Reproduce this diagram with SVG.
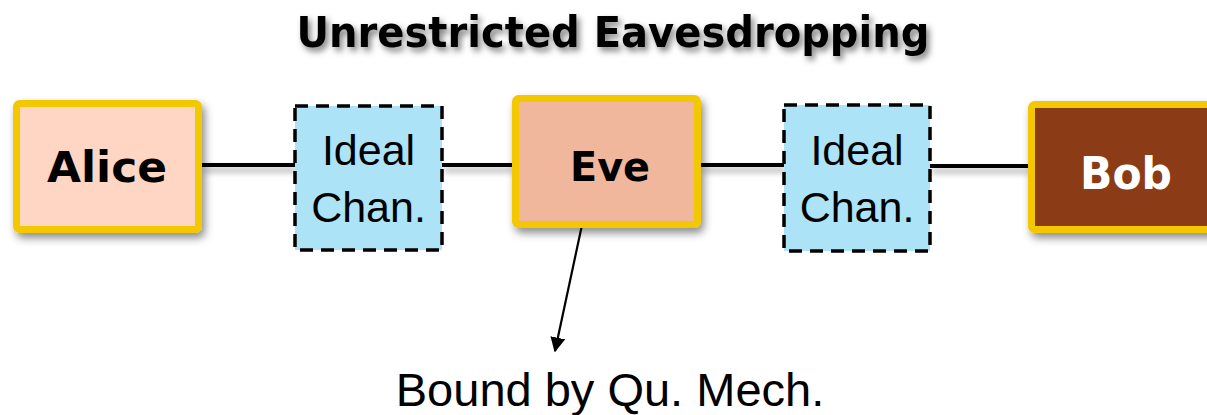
<svg xmlns="http://www.w3.org/2000/svg" width="1207" height="415" viewBox="0 0 1207 415">
<defs>
<filter id="sh" x="-20%" y="-20%" width="140%" height="150%">
<feDropShadow dx="3" dy="5" stdDeviation="4" flood-color="#000" flood-opacity="0.45"/>
</filter>
<filter id="wsh" filterUnits="userSpaceOnUse" x="0" y="140" width="1207" height="60">
<feDropShadow dx="2" dy="5" stdDeviation="3" flood-color="#000" flood-opacity="0.35"/>
</filter>
<filter id="tsh" x="-10%" y="-30%" width="120%" height="170%">
<feDropShadow dx="3" dy="4" stdDeviation="3" flood-color="#000" flood-opacity="0.5"/>
</filter>
<marker id="arr" viewBox="0 0 10 10" refX="9" refY="5" markerWidth="15" markerHeight="15" markerUnits="userSpaceOnUse" orient="auto">
<path d="M0,0 L10,5 L0,10 z" fill="#000"/>
</marker>
</defs>
<style>
.party{stroke:#F4C800;stroke-width:7;filter:url(#sh)}
.chan{fill:#ACE3F6;stroke:#000;stroke-width:3.5;stroke-dasharray:13 8}
.lbl{font-family:"DejaVu Sans",sans-serif;font-weight:bold;text-anchor:middle}
.ct{font-family:"Liberation Sans",Arial,sans-serif;font-size:43px;text-anchor:middle;fill:#000}
.wire{stroke:#000;stroke-width:4;fill:none}
</style>
<rect width="1207" height="415" fill="#fff"/>
<text x="613" y="47" font-family="'DejaVu Sans',sans-serif" font-weight="bold" font-size="43" text-anchor="middle" textLength="633" lengthAdjust="spacingAndGlyphs" filter="url(#tsh)">Unrestricted Eavesdropping</text>
<g id="connectors">
<g filter="url(#wsh)">
<line class="wire" x1="202" y1="165" x2="295" y2="165"/>
<line class="wire" x1="442" y1="165" x2="512" y2="165"/>
<line class="wire" x1="701" y1="165" x2="784" y2="165"/>
<line class="wire" x1="930" y1="166" x2="1028" y2="166"/>
</g>
<line x1="582" y1="225" x2="555" y2="351" stroke="#000" stroke-width="2.2" marker-end="url(#arr)"/>
</g>
<g id="alice">
<rect class="party" x="16.5" y="103.5" width="182" height="126" rx="3" fill="#FFD6C4"/>
<text class="lbl" x="107" y="182" font-size="42" textLength="120" lengthAdjust="spacingAndGlyphs">Alice</text>
</g>
<g id="chan1">
<rect class="chan" x="295" y="106" width="147" height="144"/>
<text class="ct" x="368.5" y="165">Ideal</text>
<text class="ct" x="368.5" y="222">Chan.</text>
</g>
<g id="eve">
<rect class="party" x="515.5" y="98.5" width="182" height="126" rx="3" fill="#F0B79D"/>
<text class="lbl" x="610" y="181" font-size="40" textLength="80" lengthAdjust="spacingAndGlyphs">Eve</text>
</g>
<g id="chan2">
<rect class="chan" x="784" y="105" width="146" height="146"/>
<text class="ct" x="857" y="165">Ideal</text>
<text class="ct" x="857" y="222">Chan.</text>
</g>
<g id="bob">
<rect class="party" x="1031.5" y="104.5" width="200" height="125" rx="3" fill="#8B3A17"/>
<text class="lbl" x="1126" y="189" font-size="44" fill="#fff" textLength="92" lengthAdjust="spacingAndGlyphs">Bob</text>
</g>
<g id="note">
<text x="610" y="406" font-family="'Liberation Sans',Arial,sans-serif" font-size="47" text-anchor="middle">Bound by Qu. Mech.</text>
</g>
</svg>
